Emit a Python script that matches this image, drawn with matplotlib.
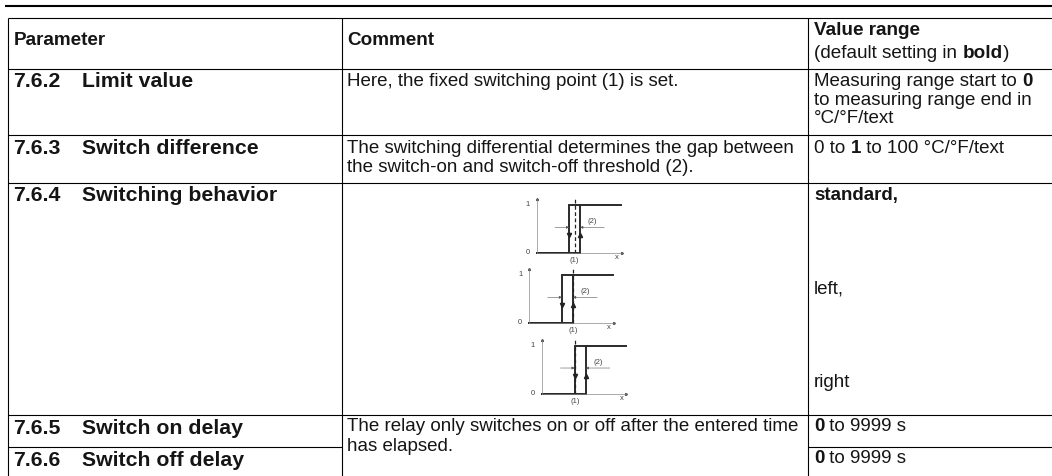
import matplotlib
matplotlib.use("Agg")
import matplotlib.pyplot as plt

W, H = 1052, 476
FONT = "Liberation Sans"
INK = "#151515"

# Table content: each run is (text, is_bold); each line is (x, baseline, runs)
header_rows = [
    (13.5, 45, [("Parameter", True)]),
    (347, 45, [("Comment", True)]),
    (814, 35, [("Value range", True)]),
    (814, 58, [("(default setting in ", False), ("bold", True), (")", False)]),
]
section_numbers = ["7.6.2", "7.6.3", "7.6.4", "7.6.5", "7.6.6"]
section_names = ["Limit value", "Switch difference", "Switching behavior",
                 "Switch on delay", "Switch off delay"]
section_baselines = [87, 154, 201, 434, 466]
comment_lines = [
    (86, "Here, the fixed switching point (1) is set."),
    (153, "The switching differential determines the gap between"),
    (172, "the switch-on and switch-off threshold (2)."),
    (431, "The relay only switches on or off after the entered time"),
    (451, "has elapsed."),
]
value_lines = [
    (86, [("Measuring range start to ", False), ("0", True)]),
    (105, [("to measuring range end in", False)]),
    (123, [("°C/°F/text", False)]),
    (153, [("0 to ", False), ("1", True), (" to 100 °C/°F/text", False)]),
    (200, [("standard,", True)]),
    (293, [("left,", False)]),
    (387, [("right", False)]),
    (431, [("0", True), (" to 9999 s", False)]),
    (463, [("0", True), (" to 9999 s", False)]),
]
column_edges = [7.5, 341.5, 807.5]
row_edges = [17.5, 68.5, 135, 183, 414.5]
merged_row_edge = 446.5

# Switching diagrams: thresholds relative to the switching point (1),
# measured in units of the switching differential (2)
diagram_names = ["standard", "left", "right"]
switch_off = [-0.5, -1.0, 0.0]
switch_on = [0.5, 0.0, 1.0]
output_low = 0
output_high = 1
axis_start = [-3.45, -4.0, -3.0]
axis_end = [4.27, 3.7, 4.7]
diagram_origin_px = [(536.7, 253), (529, 323), (541.7, 393.7)]

fig = plt.figure(figsize=(W / 100, H / 100), dpi=100)
bg = fig.add_axes([0, 0, 1, 1])
bg.set_xlim(0, W)
bg.set_ylim(H, 0)
bg.axis("off")
renderer = fig.canvas.get_renderer()


def text_width(s, size, weight):
    t = bg.text(0, 0, s, fontsize=size, family=FONT, fontweight=weight)
    w = t.get_window_extent(renderer).width
    t.remove()
    return w


def runs(x, y, parts, size):
    for txt, bold in parts:
        weight = "bold" if bold else "normal"
        bg.text(x, y, txt, fontsize=size, family=FONT, color=INK,
                fontweight=weight, va="baseline", ha="left")
        # advance width, spaces included, measured between two guard bars
        x += text_width("|" + txt + "|", size, weight) - text_width("||", size, weight)


BODY, HEAD, SECT = 13.5, 13.6, 15.3

# Rules
bg.plot([5, W], [5.5, 5.5], color="black", lw=1.5, solid_capstyle="butt")
for yy in row_edges:
    bg.plot([column_edges[0], W], [yy, yy], color="black", lw=0.8, solid_capstyle="butt")
for xx in column_edges:
    bg.plot([xx, xx], [row_edges[0], H], color="black", lw=0.8, solid_capstyle="butt")
# the merged comment cell of 7.6.5 / 7.6.6 interrupts the last row line
bg.plot([column_edges[0], column_edges[1]], [merged_row_edge] * 2, color="black", lw=0.8, solid_capstyle="butt")
bg.plot([column_edges[2], W], [merged_row_edge] * 2, color="black", lw=0.8, solid_capstyle="butt")

for x, y, parts in header_rows:
    runs(x, y, parts, HEAD)
for num, name, y in zip(section_numbers, section_names, section_baselines):
    runs(13.5, y, [(num, True)], SECT)
    runs(81.5, y, [(name, True)], SECT)
for y, txt in comment_lines:
    runs(347, y, [(txt, False)], BODY)
for y, parts in value_lines:
    runs(814, y, parts, BODY)

# Diagrams
UNIT_PX, LEVEL_PX = 11.0, 48.0
for i, name in enumerate(diagram_names):
    ox, oy = diagram_origin_px[i]
    x0, x1 = axis_start[i], axis_end[i]
    w_px = (x1 - x0) * UNIT_PX
    h_px = LEVEL_PX * 1.125
    ax = fig.add_axes([ox / W, 1 - oy / H, w_px / W, h_px / H])
    ax.patch.set_alpha(0)
    ax.set_xlim(x0, x1)
    ax.set_ylim(0, 1.125)
    ax.set_xticks([]); ax.set_yticks([])
    for s in ("top", "right"):
        ax.spines[s].set_visible(False)
    for s in ("left", "bottom"):
        ax.spines[s].set_linewidth(0.5)
        ax.spines[s].set_color("#888888")
    ax.plot(x1, 0, ">", ms=1.3, color="#333333", clip_on=False)
    ax.plot(x0, 1.125, "^", ms=1.3, color="#333333", clip_on=False)
    off, on = switch_off[i], switch_on[i]
    ax.plot([x0, off, off, x1 - 0.05], [output_low, output_low, output_high, output_high],
            color="#2a2a2a", lw=1.4, solid_joinstyle="miter", clip_on=False)
    ax.plot([on, on], [output_low, output_high], color="#2a2a2a", lw=1.4,
            solid_capstyle="projecting", clip_on=False)
    ax.plot([x0, on], [output_low, output_low], color="#2a2a2a", lw=1.4, clip_on=False)
    ax.plot([0, 0], [0, 1.13], color="#222222", lw=0.9, ls=(0, (3, 2)), clip_on=False)
    ax.plot([off], [0.375], "v", ms=3, color="#222222", clip_on=False)
    ax.plot([on], [0.375], "^", ms=3, color="#222222", clip_on=False)
    # differential marks
    for start, end in ((off - 1.3, off), (on + 2.2, on)):
        ax.annotate("", xy=(end, 0.535), xytext=(start, 0.535),
                    arrowprops=dict(arrowstyle="-|>", lw=0.4, color="#555555",
                                    mutation_scale=4, shrinkA=0, shrinkB=0))
    ax.text(on + 1.1, 0.65, "(2)", fontsize=5.5, family=FONT, color="#444444", ha="center", va="center")
    ax.text(0, -0.16, "(1)", fontsize=5.5, family=FONT, color="#444444", ha="center", va="center", clip_on=False)
    ax.text(x1 - 0.45, -0.09, "x", fontsize=5.5, family=FONT, color="#444444", ha="center", va="center", clip_on=False)
    ax.text(x0 - 0.8, output_low, "0", fontsize=5.5, family=FONT, color="#444444", ha="center", va="center", clip_on=False)
    ax.text(x0 - 0.8, output_high, "1", fontsize=5.5, family=FONT, color="#444444", ha="center", va="center", clip_on=False)

fig.savefig("out.png", dpi=100)
